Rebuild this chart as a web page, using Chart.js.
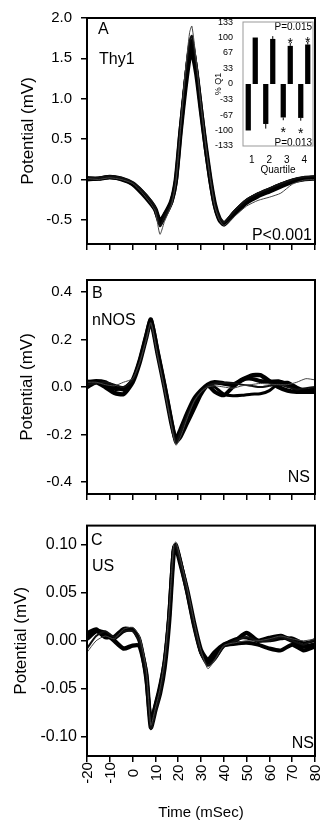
<!DOCTYPE html>
<html lang="en">
<head>
  <meta charset="UTF-8">
  <title>Potential traces</title>
  <script src="https://cdn.jsdelivr.net/npm/chart.js"></script>
  <style>
    body { margin: 0; background: #fff; }
    #wrap { position: relative; width: 323px; height: 822px; }
    canvas { position: absolute; left: 0; }
  </style>
</head>
<body>
  <div id="wrap">
    <canvas id="chartA" width="323" height="262" style="top:0"></canvas>
    <canvas id="chartB" width="323" height="250" style="top:262px"></canvas>
    <canvas id="chartC" width="323" height="310" style="top:512px"></canvas>
    <canvas id="inset" width="118" height="165" style="top:14px;left:200px"></canvas>
  </div>

  <script>
    const FONT = '"Liberation Sans", Arial, sans-serif';
    Chart.defaults.font.family = FONT;
    Chart.defaults.color = '#000';

    // shared time axis
    const timeTicks = [-20, -10, 0, 10, 20, 30, 40, 50, 60, 70, 80];

    // A - Thy1
    const timeA = [-20,-15,-10,-5,0,4,8,10,12,14,17,19,21,23,25,26,28,30,32,34,36,38,40,42,45,50,55,60,65,70,75,80];
    const thyTrace1 = [0.01,0.0,0.02,0.0,-0.05,-0.16,-0.3,-0.4,-0.68,-0.52,-0.32,-0.03,0.62,1.3,1.82,1.9,1.45,0.92,0.44,0.02,-0.33,-0.5,-0.57,-0.53,-0.45,-0.33,-0.26,-0.22,-0.17,-0.06,-0.01,0.0];
    const thyTrace2 = [0.02,0.02,0.04,0.02,-0.04,-0.13,-0.26,-0.35,-0.58,-0.47,-0.3,0.02,0.65,1.25,1.72,1.78,1.42,0.9,0.43,0.03,-0.3,-0.47,-0.53,-0.48,-0.38,-0.25,-0.17,-0.11,-0.05,0.0,0.03,0.04];
    const thyTrace3 = [0.02,0.01,0.02,0.01,-0.06,-0.16,-0.29,-0.38,-0.5,-0.43,-0.27,0.0,0.6,1.2,1.66,1.72,1.38,0.87,0.41,0.01,-0.31,-0.49,-0.55,-0.49,-0.39,-0.26,-0.18,-0.12,-0.06,-0.01,0.02,0.03];
    const thyTrace4 = [0.0,0.01,0.03,0.0,-0.06,-0.17,-0.3,-0.38,-0.55,-0.46,-0.28,-0.02,0.6,1.15,1.6,1.65,1.35,0.88,0.4,0.0,-0.32,-0.5,-0.56,-0.51,-0.42,-0.29,-0.21,-0.15,-0.09,-0.03,0.0,0.01];
    const thyTrace5 = [0.01,0.01,0.03,0.01,-0.05,-0.15,-0.28,-0.37,-0.52,-0.44,-0.27,0.0,0.58,1.1,1.52,1.58,1.3,0.85,0.42,0.02,-0.3,-0.48,-0.55,-0.5,-0.4,-0.27,-0.19,-0.13,-0.07,-0.02,0.01,0.02];
    const yTicksA = [-0.5, 0, 0.5, 1, 1.5, 2];

    // B - nNOS
    const timeB = [-20,-16,-12,-8,-4,0,3,6,8,11,14,17,19,21,24,27,30,33,36,40,44,48,52,56,60,64,68,72,76,80];
    const nnosTrace1 = [0.02,0.02,0.01,0.005,0.02,0.035,0.1,0.2,0.27,0.13,-0.01,-0.16,-0.245,-0.21,-0.13,-0.06,-0.02,0.0,0.005,0.0,-0.005,0.005,0.01,0.015,0.012,0.01,0.01,0.02,0.035,0.03];
    const nnosTrace2 = [0.01,0.015,0.02,0.01,0.0,0.03,0.1,0.2,0.27,0.13,-0.01,-0.155,-0.235,-0.19,-0.12,-0.06,-0.02,0.005,0.015,0.017,0.017,0.01,0.005,0.0,0.005,0.01,0.0,-0.01,-0.005,0.0];
    const nnosTrace3 = [0.025,0.02,0.01,-0.01,-0.005,0.025,0.1,0.21,0.275,0.14,0.0,-0.15,-0.225,-0.2,-0.13,-0.07,-0.025,0.01,0.0,-0.03,-0.037,-0.035,-0.03,-0.028,-0.015,0.015,0.02,0.0,-0.015,-0.02];
    const nnosTrace4 = [0.02,0.025,0.02,0.0,-0.01,0.03,0.11,0.22,0.285,0.15,0.01,-0.14,-0.23,-0.21,-0.15,-0.09,-0.03,0.005,-0.02,-0.035,0.0,0.03,0.035,0.025,0.022,0.024,0.01,-0.01,-0.015,-0.01];
    const nnosTrace5 = [0.0,0.02,0.0,-0.025,-0.03,0.02,0.1,0.21,0.28,0.14,0.0,-0.15,-0.22,-0.18,-0.11,-0.05,-0.015,0.01,0.02,0.015,0.01,0.03,0.048,0.05,0.025,0.0,-0.015,-0.02,-0.02,-0.02];
    const yTicksB = [-0.4, -0.2, 0, 0.2, 0.4];

    // C - US
    const timeC = [-20,-16,-12,-8,-4,0,3,6,8,10,12,14,16,18,19,21,24,27,30,33,36,40,45,50,55,60,65,70,75,80];
    const usTrace1 = [-0.012,0.0,0.005,0.002,0.012,0.014,0.005,-0.03,-0.088,-0.07,-0.05,-0.02,0.03,0.1,0.103,0.085,0.055,0.02,-0.01,-0.029,-0.02,-0.005,-0.002,0.0,0.0,0.002,0.005,0.002,0.0,0.002];
    const usTrace2 = [-0.008,0.005,0.01,0.004,0.01,0.01,0.0,-0.036,-0.092,-0.074,-0.056,-0.026,0.024,0.094,0.1,0.08,0.05,0.016,-0.014,-0.026,-0.02,-0.006,0.0,0.004,0.0,0.0,0.004,0.0,-0.004,0.002];
    const usTrace3 = [0.005,0.01,0.003,0.005,0.013,0.012,0.003,-0.032,-0.082,-0.065,-0.045,-0.02,0.028,0.098,0.1,0.083,0.052,0.017,-0.013,-0.024,-0.016,-0.004,0.002,0.003,0.0,0.0,0.002,0.003,-0.002,0.0];
    const usTrace4 = [0.008,0.012,0.005,0.003,0.01,0.012,0.0,-0.04,-0.085,-0.068,-0.05,-0.022,0.025,0.095,0.1,0.082,0.05,0.015,-0.012,-0.022,-0.018,-0.005,-0.003,-0.002,-0.004,-0.008,-0.01,-0.004,-0.01,-0.006];
    const usTrace5 = [0.002,0.01,0.008,0.0,-0.008,-0.005,-0.005,-0.035,-0.09,-0.072,-0.055,-0.028,0.02,0.092,0.097,0.08,0.052,0.018,-0.01,-0.02,-0.012,-0.004,0.0,0.008,0.0,0.003,0.005,0.0,-0.006,-0.004];
    const yTicksC = [-0.1, -0.05, 0, 0.05, 0.1];

    // inset - % of Q1 per quartile
    const quartiles = ['1', '2', '3', '4'];
    const negMean = [-100, -86, -72, -73];
    const negErr = [0, 10, 6, 6];
    const posMean = [100, 97, 82, 85];
    const posErr = [0, 6, 6, 6];
    const starred = [false, false, true, true];
    const insetTicks = [-133, -100, -67, -33, 0, 33, 67, 100, 133];

    // thin traces first so they are drawn on top
    const traceWidths = [1, 2, 3, 4, 4.5];
    const traceColors = ['#444', '#111', '#000', '#000', '#000'];

    function makeSets(times, traces) {
      return traces.map((vals, i) => ({
        data: vals.map((v, k) => ({ x: times[k], y: v })),
        borderColor: traceColors[i],
        borderWidth: traceWidths[i],
        pointRadius: 0,
        tension: 0.2,
        fill: false
      }));
    }

    // box around the plot area
    const framePlugin = {
      id: 'frame',
      afterDraw(chart, args, opts) {
        const { ctx, chartArea: a } = chart;
        ctx.save();
        ctx.strokeStyle = opts.color || '#000';
        ctx.lineWidth = opts.width || 2;
        ctx.strokeRect(a.left, a.top, a.right - a.left, a.bottom - a.top);
        ctx.restore();
      }
    };

    // text inside the panels
    const notesPlugin = {
      id: 'notes',
      afterDraw(chart, args, opts) {
        const { ctx, chartArea: a } = chart;
        ctx.save();
        ctx.fillStyle = '#000';
        (opts.items || []).forEach(n => {
          ctx.font = (n.size || 16) + 'px ' + FONT;
          ctx.textAlign = n.right ? 'right' : 'left';
          ctx.textBaseline = 'alphabetic';
          const x = n.right ? a.right - n.dx : a.left + n.dx;
          const y = n.bottom ? a.bottom - n.dy : a.top + n.dy;
          ctx.fillText(n.text, x, y);
        });
        ctx.restore();
      }
    };

    // rotated time labels, centred on a line under the axis
    const rotLabels = {
      id: 'rotLabels',
      afterDraw(chart, args, opts) {
        if (!opts.show) return;
        const x = chart.scales.x, ctx = chart.ctx;
        ctx.save();
        ctx.font = '15px ' + FONT;
        ctx.fillStyle = '#000';
        ctx.textAlign = 'center';
        ctx.textBaseline = 'middle';
        timeTicks.forEach(v => {
          ctx.save();
          ctx.translate(x.getPixelForValue(v), x.top + opts.offset);
          ctx.rotate(-Math.PI / 2);
          ctx.fillText(String(v), 0, 1);
          ctx.restore();
        });
        ctx.restore();
      }
    };

    function panel(id, times, traces, cfg) {
      return new Chart(document.getElementById(id), {
        type: 'line',
        data: { datasets: makeSets(times, traces) },
        options: {
          responsive: false,
          animation: false,
          layout: { padding: { top: cfg.padTop, right: 8, left: 0, bottom: 0 } },
          plugins: {
            legend: { display: false },
            tooltip: { enabled: false },
            frame: { width: 2 },
            notes: { items: cfg.notes },
            rotLabels: { show: !!cfg.timeTitle, offset: 17 }
          },
          scales: {
            x: {
              type: 'linear', min: -20, max: 80,
              afterBuildTicks: s => { s.ticks = timeTicks.map(v => ({ value: v })); },
              afterFit: s => { s.height = cfg.xHeight; },
              ticks: { display: false },
              grid: { drawOnChartArea: false, drawTicks: true, tickLength: 6, color: '#000', lineWidth: 1.5 },
              border: { display: false },
              title: { display: !!cfg.timeTitle, text: 'Time (mSec)', font: { size: 15 }, padding: { top: 0, bottom: 0 } }
            },
            y: {
              type: 'linear', min: cfg.min, max: cfg.max,
              afterBuildTicks: s => { s.ticks = cfg.yTicks.map(v => ({ value: v })); },
              afterFit: s => { s.width = 87; },
              ticks: { callback: v => v.toFixed(cfg.dec), font: { size: cfg.tickSize }, padding: cfg.tickPad },
              grid: { drawOnChartArea: false, drawTicks: true, tickLength: 6, color: '#000', lineWidth: 1.5 },
              border: { display: false },
              title: { display: true, text: 'Potential (mV)', font: { size: 17 }, padding: { top: cfg.titlePad, bottom: 0 } }
            }
          }
        },
        plugins: [framePlugin, notesPlugin, rotLabels]
      });
    }

    panel('chartA', timeA, [thyTrace1, thyTrace2, thyTrace3, thyTrace4, thyTrace5], {
      padTop: 14, xHeight: 11, min: -0.8, max: 2.0, yTicks: yTicksA, dec: 1,
      tickSize: 15, tickPad: 9, titlePad: 18,
      notes: [
        { text: 'A', dx: 11, dy: 16 },
        { text: 'Thy1', dx: 12, dy: 46 },
        { text: 'P<0.001', right: true, bottom: true, dx: 3, dy: 4 }
      ]
    });

    panel('chartB', timeB, [nnosTrace1, nnosTrace2, nnosTrace3, nnosTrace4, nnosTrace5], {
      padTop: 5, xHeight: 7, min: -0.45, max: 0.45, yTicks: yTicksB, dec: 1,
      tickSize: 15, tickPad: 9, titlePad: 17,
      notes: [
        { text: 'B', dx: 5, dy: 18 },
        { text: 'nNOS', dx: 5, dy: 45 },
        { text: 'NS', right: true, bottom: true, dx: 5, dy: 12 }
      ]
    });

    panel('chartC', timeC, [usTrace1, usTrace2, usTrace3, usTrace4, usTrace5], {
      padTop: 6, xHeight: 66, min: -0.12, max: 0.12, yTicks: yTicksC, dec: 2,
      tickSize: 16, tickPad: 4, titlePad: 11, timeTitle: true,
      notes: [
        { text: 'C', dx: 4, dy: 19 },
        { text: 'US', dx: 5, dy: 45 },
        { text: 'NS', right: true, bottom: true, dx: 1, dy: 8 }
      ]
    });

    // error whiskers, stars and P values of the inset
    const insetMarks = {
      id: 'insetMarks',
      afterDatasetsDraw(chart) {
        const { ctx, chartArea: a, scales: { y } } = chart;
        const groups = [[negMean, negErr, -1, 9], [posMean, posErr, 1, 3]];
        ctx.save();
        ctx.strokeStyle = '#000';
        ctx.lineWidth = 1;
        ctx.fillStyle = '#000';
        groups.forEach(([means, errs, dir, gap], d) => {
          chart.getDatasetMeta(d).data.forEach((bar, i) => {
            const yTip = y.getPixelForValue(means[i] + dir * errs[i]);
            if (errs[i] > 0) {
              ctx.beginPath();
              ctx.moveTo(bar.x, bar.y);
              ctx.lineTo(bar.x, yTip);
              ctx.stroke();
            }
            if (starred[i]) {
              ctx.font = '14px ' + FONT;
              ctx.textAlign = 'center';
              ctx.textBaseline = 'alphabetic';
              ctx.fillText('*', bar.x, yTip - dir * gap + 8);
            }
          });
        });
        ctx.font = '10px ' + FONT;
        ctx.textAlign = 'right';
        ctx.textBaseline = 'middle';
        ctx.fillText('P=0.015', a.right - 1, a.top + 5);
        ctx.fillText('P=0.013', a.right - 1, a.bottom - 3);
        ctx.restore();
      }
    };

    new Chart(document.getElementById('inset'), {
      type: 'bar',
      data: {
        labels: quartiles,
        datasets: [
          { data: negMean, backgroundColor: '#000', categoryPercentage: 0.8, barPercentage: 0.75 },
          { data: posMean, backgroundColor: '#000', categoryPercentage: 0.8, barPercentage: 0.75 }
        ]
      },
      options: {
        responsive: false,
        animation: false,
        layout: { padding: { top: 8, right: 5, left: 0, bottom: 0 } },
        plugins: {
          legend: { display: false },
          tooltip: { enabled: false },
          frame: { color: '#999', width: 1 }
        },
        scales: {
          x: {
            afterFit: s => { s.height = 33; },
            grid: { display: false },
            border: { display: false },
            ticks: { font: { size: 10 }, padding: 0 },
            title: { display: true, text: 'Quartile', font: { size: 10 }, padding: { top: 0, bottom: 3 } }
          },
          y: {
            min: -133.4, max: 133.4,
            afterBuildTicks: s => { s.ticks = insetTicks.map(v => ({ value: v })); },
            afterFit: s => { s.width = 43; },
            grid: { display: false },
            border: { display: false },
            ticks: { font: { size: 9 }, padding: 2 },
            title: { display: true, text: '% Q1', font: { size: 9 }, padding: { top: 13, bottom: 0 } }
          }
        }
      },
      plugins: [framePlugin, insetMarks]
    });
  </script>
</body>
</html>
